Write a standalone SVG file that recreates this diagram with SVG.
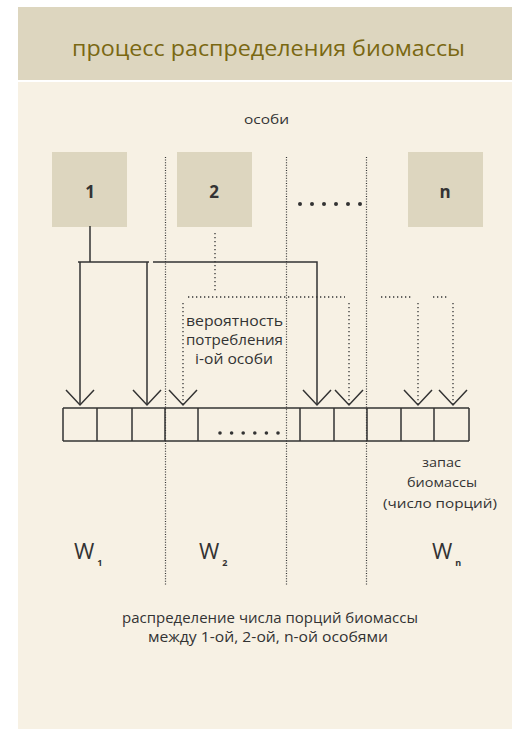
<svg xmlns="http://www.w3.org/2000/svg" width="512" height="729" viewBox="0 0 512 729">
  <style>
    .t { font-family: "Open Sans", "Noto Sans", "DejaVu Sans", sans-serif; fill: #333; }
    .title { font-family: "Open Sans", "Noto Sans", sans-serif; fill: #7a6812; font-size: 22px; }
    .box { fill: #ddd6bf; }
    .solid { fill: none; stroke: #333; stroke-width: 1.5; }
    .dot { fill: none; stroke: #333; stroke-width: 1.3; stroke-dasharray: 1.3 2.7; }
    .sep { fill: none; stroke: #333; stroke-width: 1.2; stroke-dasharray: 1 1.6; }
    .head { fill: none; stroke: #333; stroke-width: 1.5; }
    .sub { font-size: 9px; font-weight: bold; }
  </style>

  <!-- background panels -->
  <rect x="0" y="0" width="512" height="729" fill="#ffffff"/>
  <rect x="18" y="7" width="494" height="73" fill="#ddd6bf"/>
  <rect x="18" y="82" width="494" height="647" fill="#f7f1e4"/>
  <text class="title" x="72" y="56" textLength="393" lengthAdjust="spacingAndGlyphs">процесс распределения биомассы</text>

  <text class="t" x="244" y="124" font-size="13" textLength="45" lengthAdjust="spacingAndGlyphs">особи</text>

  <!-- individuals -->
  <g id="node-1">
    <rect class="box" x="52" y="152" width="75" height="75"/>
    <text class="t" x="90" y="198" font-size="17" font-weight="bold" text-anchor="middle">1</text>
  </g>
  <g id="node-2">
    <rect class="box" x="177" y="152" width="75" height="75"/>
    <text class="t" x="214" y="198" font-size="17" font-weight="bold" text-anchor="middle">2</text>
  </g>
  <g id="node-n">
    <rect class="box" x="408" y="152" width="75" height="75"/>
    <text class="t" x="445" y="198" font-size="17" font-weight="bold" text-anchor="middle">n</text>
  </g>

  <!-- ellipsis between individuals -->
  <g id="ellipsis-top" fill="#333">
    <circle cx="300" cy="204" r="2"/>
    <circle cx="312" cy="204" r="2"/>
    <circle cx="324" cy="204" r="2"/>
    <circle cx="336" cy="204" r="2"/>
    <circle cx="348" cy="204" r="2"/>
    <circle cx="360" cy="204" r="2"/>
  </g>

  <!-- column separators -->
  <g id="separators">
    <line class="sep" x1="165.5" y1="157" x2="165.5" y2="585"/>
    <line class="sep" x1="286.5" y1="157" x2="286.5" y2="585"/>
    <line class="sep" x1="366.5" y1="157" x2="366.5" y2="585"/>
  </g>

  <!-- biomass stock cells -->
  <g id="stock">
    <line class="solid" x1="63" y1="408" x2="469" y2="408"/>
    <line class="solid" x1="63" y1="441" x2="469" y2="441"/>
    <path class="solid" d="M63 408V441M97 408V441M132 408V441M165 408V441M198 408V441M300 408V441M334 408V441M367 408V441M401 408V441M434 408V441M469 408V441"/>
    <g fill="#333">
      <circle cx="220" cy="433" r="1.8"/>
      <circle cx="231.6" cy="433" r="1.8"/>
      <circle cx="243.2" cy="433" r="1.8"/>
      <circle cx="254.8" cy="433" r="1.8"/>
      <circle cx="266.4" cy="433" r="1.8"/>
      <circle cx="278" cy="433" r="1.8"/>
    </g>
  </g>

  <!-- connectors -->
  <g id="connectors">
    <!-- individual 1: solid routes -->
    <path class="solid" d="M90 226V262M78 262H149M80 262V405M147 262V405"/>
    <path class="solid" d="M153 262H317V405"/>
    <!-- individual 2: dotted routes -->
    <path class="dot" d="M215 233V292"/>
    <path class="dot" d="M188 297H345"/>
    <path class="dot" d="M183 303V404"/>
    <path class="dot" d="M349 303V404"/>
    <path class="dot" d="M381 297H413"/>
    <path class="dot" d="M418 303V404"/>
    <path class="dot" d="M433 297H447"/>
    <path class="dot" d="M453 303V404"/>
    <!-- open arrowheads -->
    <path class="head" d="M66 390L80 405L94 390"/>
    <path class="head" d="M133 390L147 405L161 390"/>
    <path class="head" d="M169 390L183 405L197 390"/>
    <path class="head" d="M303 390L317 405L331 390"/>
    <path class="head" d="M335 390L349 405L363 390"/>
    <path class="head" d="M404 390L418 405L432 390"/>
    <path class="head" d="M439 390L453 405L467 390"/>
  </g>

  <!-- labels -->
  <g class="t" font-size="14">
    <text x="186" y="326" textLength="97" lengthAdjust="spacingAndGlyphs">вероятность</text>
    <text x="186" y="345" textLength="97" lengthAdjust="spacingAndGlyphs">потребления</text>
    <text x="195" y="364" textLength="78" lengthAdjust="spacingAndGlyphs">i-ой особи</text>
  </g>
  <g class="t" font-size="13">
    <text x="422" y="467" textLength="39" lengthAdjust="spacingAndGlyphs">запас</text>
    <text x="407" y="487" textLength="70" lengthAdjust="spacingAndGlyphs">биомассы</text>
    <text x="383" y="508" textLength="114" lengthAdjust="spacingAndGlyphs">(число порций)</text>
  </g>

  <text class="t" x="74" y="559" font-size="22">W<tspan class="sub" dy="7" dx="3">1</tspan></text>
  <text class="t" x="199" y="559" font-size="22">W<tspan class="sub" dy="7" dx="3">2</tspan></text>
  <text class="t" x="432" y="559" font-size="22">W<tspan class="sub" dy="7" dx="3">n</tspan></text>

  <g class="t" font-size="14">
    <text x="122" y="623" textLength="296" lengthAdjust="spacingAndGlyphs">распределение числа порций биомассы</text>
    <text x="148" y="642" textLength="240" lengthAdjust="spacingAndGlyphs">между 1-ой, 2-ой, n-ой особями</text>
  </g>
</svg>
